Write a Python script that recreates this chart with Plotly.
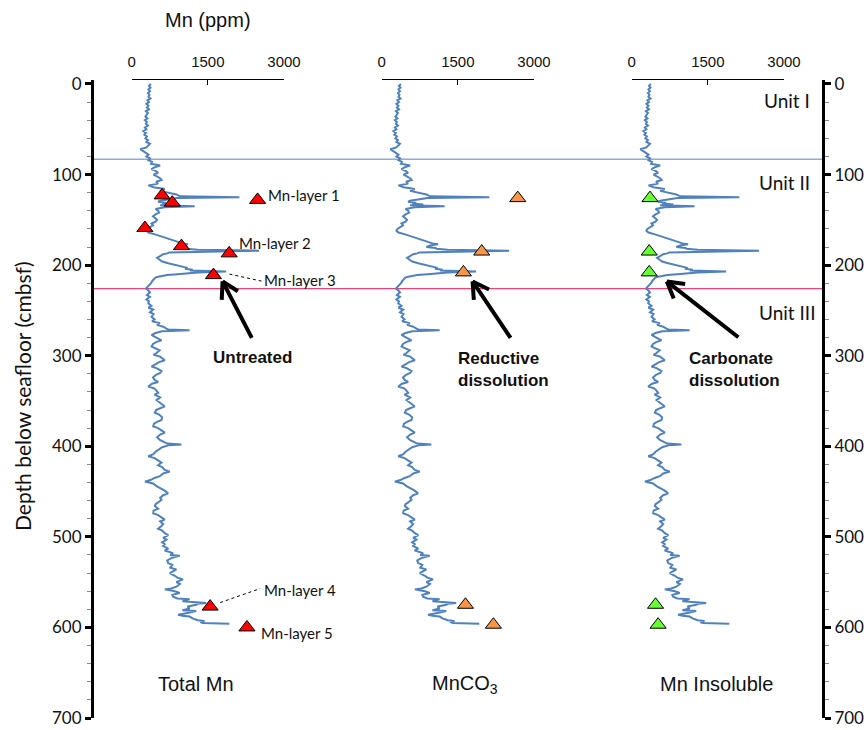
import math
import plotly.graph_objects as go

# ---------------- data ----------------
profile_points = [
    (0, 380), (2, 340), (4, 370), (6, 330), (8, 360), (10, 320), (12, 350), (14, 330), (16, 370), (18, 310),
    (20, 340), (22, 290), (24, 330), (26, 300), (28, 340), (30, 280), (32, 320), (34, 300), (36, 270), (38, 310),
    (40, 260), (42, 300), (44, 280), (46, 320), (48, 260), (50, 290), (52, 230), (54, 280), (56, 250), (58, 300),
    (60, 270), (62, 320), (64, 290), (66, 360), (68, 320), (70, 290), (72, 170), (74, 230), (76, 280), (78, 330),
    (80, 290), (82, 360),
    (84, 330), (86, 400), (88, 380), (90, 560), (92, 450), (94, 390), (96, 470), (98, 520), (100, 430), (102, 500),
    (104, 560), (106, 590), (108, 480), (110, 520), (112, 330), (114, 430), (116, 650), (118, 560), (120, 720),
    (121, 800), (122, 880), (124, 950), (125, 2120), (126, 900), (127, 760), (128, 640), (129, 560), (130, 520),
    (131, 680), (132, 600), (133, 820), (134, 560), (135, 1240), (136, 650), (137, 500), (138, 470), (140, 520),
    (142, 540), (144, 470), (146, 420), (148, 460), (150, 500), (152, 470), (154, 390), (156, 420), (158, 350),
    (160, 310), (162, 290), (164, 330), (166, 460), (168, 560), (170, 700), (172, 780), (174, 900), (176, 1000),
    (177, 1110), (178, 970), (180, 880), (181, 1060), (182, 1080), (183, 1300), (184, 2510), (185, 1200),
    (186, 740), (187, 700), (188, 620), (190, 560), (192, 500), (194, 550), (196, 600), (198, 720), (200, 880),
    (202, 1000), (203, 1100), (204, 1050), (205, 1200), (206, 1150), (207, 1860), (208, 1300), (209, 1150),
    (210, 900), (211, 700), (212, 560), (213, 500), (214, 460), (216, 420), (218, 400), (220, 380), (222, 340),
    (224, 300), (226, 280),
    (228, 330), (230, 360), (233, 300), (235, 359), (238, 290), (240, 340), (242, 326), (245, 390), (247, 330),
    (249, 424), (252, 360), (254, 430), (257, 391), (260, 450), (262, 400), (264, 554), (266, 500), (268, 620),
    (270, 685), (271, 720), (272, 1141), (273, 600), (275, 470), (277, 391), (279, 450), (281, 520), (283, 587),
    (285, 480), (287, 420), (290, 391), (292, 470), (294, 550), (297, 489), (299, 430), (301, 560), (303, 620),
    (305, 652), (307, 540), (309, 470), (312, 391), (314, 500), (317, 587), (319, 560), (321, 480), (324, 420),
    (327, 456), (329, 520), (331, 400), (334, 326), (336, 440), (338, 480), (341, 522), (343, 450), (346, 560),
    (349, 489), (351, 540), (353, 600), (356, 652), (358, 560), (360, 480), (363, 456), (365, 540), (368, 600),
    (371, 587), (373, 500), (375, 440), (378, 424), (380, 520), (383, 600), (385, 652), (387, 560), (390, 500),
    (393, 554), (395, 620), (397, 700), (398, 978), (399, 720), (401, 600), (404, 522), (406, 470), (409, 420),
    (411, 326), (413, 450), (416, 540), (418, 587), (421, 520), (423, 600), (426, 650), (428, 750), (430, 620),
    (433, 554), (435, 450), (437, 380), (439, 261), (441, 420), (444, 489), (446, 560), (449, 650), (452, 717),
    (454, 620), (457, 560), (459, 587), (462, 520), (464, 470), (466, 456), (469, 520), (471, 430), (474, 424),
    (476, 520), (479, 600), (481, 652), (483, 560), (486, 620), (488, 587), (491, 520), (493, 600), (496, 652),
    (498, 720), (501, 620), (503, 685), (506, 600), (508, 650), (510, 619), (513, 720), (515, 650), (518, 815),
    (520, 760), (521, 945), (523, 800), (526, 700), (529, 717), (531, 800), (534, 760), (536, 880), (538, 820),
    (540, 750), (543, 850), (545, 900), (547, 1011), (550, 880), (552, 950), (555, 880), (557, 780), (558, 652),
    (560, 850), (562, 945), (564, 800), (566, 815), (568, 900), (569, 1141), (571, 1000), (573, 1467),
    (574, 1300), (575, 1271), (577, 1100), (579, 1141), (581, 1000), (582, 1271), (584, 1100), (586, 913),
    (587, 1000), (588, 1141), (590, 1200), (591, 1271), (592, 1300), (593, 1434), (594, 1350), (595, 1402),
    (596, 1923),
]
depth_cmbsf = [p[0] for p in profile_points]
mn_ppm = [p[1] for p in profile_points]

total_mn_ppm = [600, 800, 2480, 260, 980, 1920, 1610, 1545, 2270]
total_mn_depth = [123, 131, 128, 159, 179, 187, 211, 577, 600]
mnco3_ppm = [2680, 1970, 1610, 1650, 2200]
mnco3_depth = [126, 185, 208, 575, 597]
mnins_ppm = [360, 345, 345, 470, 520]
mnins_depth = [126, 185, 208, 575, 597]

x_ticks = [0, 1500, 3000]
depth_ticks = list(range(0, 701, 100))
panel_labels = ["Total Mn", "MnCO<sub>3</sub>", "Mn Insoluble"]
unit_boundaries = [83, 226]
unit_labels = ["Unit I", "Unit II", "Unit III"]
layer_labels = ["Mn-layer 1", "Mn-layer 2", "Mn-layer 3", "Mn-layer 4", "Mn-layer 5"]
layer_index = [2, 5, 6, 7, 8]

# ---------------- styling ----------------
CAL = "Lato, Open Sans, sans-serif"
ARIAL = "Liberation Sans, Arial, sans-serif"
NARROW = "Liberation Sans Narrow, Liberation Sans, Arial, sans-serif"
BLUE = "#4F81BD"
W, H = 867, 730
L, R, T, B = 92, 44, 80, 12
PW, PH = W - L - R, H - T - B

def px_x(p):
    return (p - L) / PW

def px_y(p):
    return (H - B - p) / PH

domains = [[px_x(131.7), px_x(284.0)], [px_x(381.7), px_x(534.0)], [px_x(631.7), px_x(784.0)]]
xnames = ["x", "x2", "x3"]

fig = go.Figure()
for xn in xnames:
    fig.add_trace(go.Scatter(x=mn_ppm, y=depth_cmbsf, mode="lines", xaxis=xn, yaxis="y",
                             line=dict(color=BLUE, width=2), showlegend=False, hoverinfo="skip"))

for xs, ys, col, xn in [(total_mn_ppm, total_mn_depth, "#FF0000", "x"),
                        (mnco3_ppm, mnco3_depth, "#F79646", "x2"),
                        (mnins_ppm, mnins_depth, "#66FF33", "x3")]:
    fig.add_trace(go.Scatter(x=xs, y=ys, mode="markers", xaxis=xn, yaxis="y", showlegend=False,
                             marker=dict(symbol="triangle-up", size=14, color=col,
                                         line=dict(color="black", width=1))))

# unit boundary lines
for d, c in zip(unit_boundaries, [BLUE, "#F0185A"]):
    fig.add_shape(type="line", xref="paper", yref="y", x0=0, x1=1, y0=d, y1=d,
                  line=dict(color=c, width=1), layer="below")

ann = []
ann.append(dict(text="Mn (ppm)", xref="paper", yref="paper", x=px_x(208), y=px_y(20),
                xanchor="center", yanchor="middle",
                showarrow=False, font=dict(family=ARIAL, size=20, color="#111")))
ann.append(dict(text="Depth below seafloor (cmbsf)", xref="paper", yref="paper", x=px_x(22), y=px_y(396),
                xanchor="center", yanchor="middle",
                textangle=-90, showarrow=False, font=dict(family=CAL, size=21, color="#111")))
for lab, cx in zip(panel_labels, [196, 465, 716]):
    ann.append(dict(text=lab, xref="paper", yref="paper", x=px_x(cx), y=px_y(684), showarrow=False,
                    xanchor="center", yanchor="middle",
                    font=dict(family=NARROW, size=20, color="#111")))
for lab, rx, d in zip(unit_labels, [812, 812, 818], [18, 109, 252]):
    ann.append(dict(text=lab, xref="paper", yref="y", x=px_x(rx), y=d, xanchor="right", yanchor="middle",
                    showarrow=False, font=dict(family=CAL, size=19, color="#111")))

# Mn-layer labels anchored on the triangles
shifts = [(8, 5), (8, 10), (49, -5), (52, 17), (12, -6)]
for lab, idx, (sx, sy) in zip(layer_labels, layer_index, shifts):
    ann.append(dict(text=lab, xref="x", yref="y", x=total_mn_ppm[idx], y=total_mn_depth[idx],
                    xanchor="left", yanchor="middle", xshift=sx, yshift=sy, showarrow=False,
                    font=dict(family=CAL, size=15, color="#111")))
# dotted leaders for layers 3 and 4
for idx, (x0, y0, x1, y1) in [(6, (16, 1, 48, -6)), (7, (10, 4, 50, 18))]:
    fig.add_shape(type="line", xref="x", yref="y", xsizemode="pixel", ysizemode="pixel",
                  xanchor=total_mn_ppm[idx], yanchor=total_mn_depth[idx],
                  x0=x0, x1=x1, y0=y0, y1=y1, line=dict(color="black", width=1, dash="dot"))

# arrows with open V heads
for xn, tipx, ax_, ay_ in [("x", 1790, 30, 58), ("x2", 1790, 39, 58), ("x3", 692, 73, 57)]:
    ann.append(dict(text="", xref=xn, yref="y", x=tipx, y=218, ax=ax_, ay=ay_, showarrow=True,
                    arrowhead=0, arrowwidth=4, arrowcolor="black", standoff=0, startstandoff=0))
    n = math.hypot(ax_, ay_)
    ux, uy = ax_ / n, ay_ / n
    for ang in (math.radians(30), math.radians(-30)):
        wx = 20 * (ux * math.cos(ang) - uy * math.sin(ang))
        wy = 20 * (ux * math.sin(ang) + uy * math.cos(ang))
        ann.append(dict(text="", xref=xn, yref="y", x=tipx, y=218, ax=wx, ay=wy, showarrow=True,
                        arrowhead=0, arrowwidth=4, arrowcolor="black", standoff=0, startstandoff=0))

ann.append(dict(text="<b>Untreated</b>", xref="x", yref="y", x=2378, y=302, showarrow=False,
                xanchor="center", yanchor="middle", font=dict(family=ARIAL, size=17, color="#111")))
ann.append(dict(text="<b>Reductive<br>dissolution</b>", xref="x2", yref="y", x=1456, y=315, xanchor="left",
                yanchor="middle", align="left", showarrow=False, font=dict(family=ARIAL, size=17, color="#111")))
ann.append(dict(text="<b>Carbonate<br>dissolution</b>", xref="x3", yref="y", x=1084, y=315, xanchor="left",
                yanchor="middle", align="left", showarrow=False, font=dict(family=ARIAL, size=17, color="#111")))

xaxis_style = dict(range=[0, 3000], side="top", anchor="y", tickvals=x_ticks, ticks="inside", ticklen=5,
                   tickcolor="black", showline=True, linecolor="black", linewidth=1, showgrid=False,
                   zeroline=False, tickfont=dict(family=ARIAL, size=15, color="#111"), ticklabelstandoff=6,
                   automargin=False)
yaxis_style = dict(range=[700, -4.4], tickvals=depth_ticks, ticks="outside", ticklen=6, tickwidth=3,
                   tickcolor="black", showline=True, linecolor="black", linewidth=3, showgrid=False,
                   zeroline=False, tickfont=dict(family=CAL, size=17, color="#111"), automargin=False,
                   minor=dict(dtick=20, ticks="outside", ticklen=4, tickwidth=1, tickcolor="#888"))

layout = dict(width=W, height=H, margin=dict(l=L, r=R, t=T, b=B), paper_bgcolor="white",
              plot_bgcolor="white", showlegend=False, annotations=ann)
for i, xn in enumerate(xnames):
    key = "xaxis" if i == 0 else f"xaxis{i+1}"
    layout[key] = dict(domain=domains[i], **xaxis_style)
layout["yaxis"] = dict(domain=[0, 1], anchor="free", position=0, **yaxis_style)
layout["yaxis2"] = dict(overlaying="y", side="right", anchor="free", position=1, matches="y", **yaxis_style)
fig.update_layout(**layout)
# dummy trace to activate the right axis
fig.add_trace(go.Scatter(x=[None], y=[None], xaxis="x", yaxis="y2", showlegend=False))

fig.write_html("out.html")
